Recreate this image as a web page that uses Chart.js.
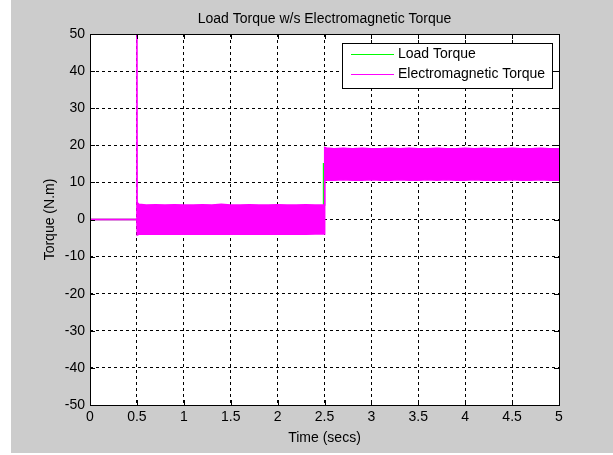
<!DOCTYPE html>
<html>
<head>
<meta charset="utf-8">
<script src="https://cdn.jsdelivr.net/npm/chart.js@4/dist/chart.umd.min.js"></script>
<style>
  html, body { margin: 0; padding: 0; background: #ffffff; }
  canvas { display: block; }
</style>
</head>
<body>
<canvas id="torqueChart" width="613" height="455"></canvas>
<script>
// ------- Data -------
const xTicks = [0, 0.5, 1, 1.5, 2, 2.5, 3, 3.5, 4, 4.5, 5];
const yTicks = [-50, -40, -30, -20, -10, 0, 10, 20, 30, 40, 50];

// load torque: step at ~2.5 s
const loadTime = [0, 2.49, 2.49, 5];
const loadValue = [0, 0, 15, 15];

// electromagnetic torque: start spike at 0.5 s, then a dense ripple band
// kept as its upper / lower envelope
const emTime = [0, 0.499, 0.5, 0.503, 0.52,
  0.6, 0.7, 0.8, 0.9, 1.0, 1.1, 1.2, 1.3, 1.4, 1.5, 1.6, 1.7, 1.8, 1.9, 2.0, 2.1, 2.2, 2.3, 2.4,
  2.498, 2.502, 2.52,
  2.6, 2.7, 2.8, 2.9, 3.0, 3.1, 3.2, 3.3, 3.4, 3.5, 3.6, 3.7, 3.8, 3.9, 4.0, 4.1, 4.2, 4.3, 4.4, 4.5, 4.6, 4.7, 4.8, 4.9, 5.0];
const emUpper = [0, 0, 80, 4.6, 4.1,
  3.9, 4.0, 3.9, 4.0, 3.9, 3.9, 4.0, 3.9, 4.1, 3.9, 3.9, 4.0, 3.9, 3.9, 4.0, 3.9, 3.9, 4.0, 3.9,
  3.9, 19.4, 19.3,
  19.1, 19.2, 19.1, 19.2, 19.1, 19.1, 19.2, 19.1, 19.2, 19.1, 19.1, 19.2, 19.1, 19.1, 19.2, 19.1, 19.2, 19.1, 19.1, 19.2, 19.1, 19.1, 19.2, 19.1, 19.1];
const emLower = [0, 0, 0, -4.2, -4.0,
  -3.9, -4.0, -3.9, -4.0, -3.9, -4.0, -3.9, -4.0, -3.9, -4.0, -3.9, -4.0, -3.9, -4.0, -3.9, -4.0, -3.9, -4.0, -3.9,
  -3.9, 10.7, 10.6,
  10.6, 10.7, 10.6, 10.6, 10.7, 10.6, 10.6, 10.7, 10.6, 10.6, 10.7, 10.6, 10.7, 10.6, 10.6, 10.7, 10.6, 10.6, 10.6, 10.7, 10.6, 10.6, 10.7, 10.6, 10.6];

const legendLabels = ['Load Torque', 'Electromagnetic Torque'];
const GREEN = '#00ff00';
const MAGENTA = '#ff00ff';

function toPoints(xs, ys) {
  return xs.map((x, i) => ({ x: x, y: ys[i] }));
}

Chart.defaults.font.family = '"Liberation Sans", Arial, Helvetica, sans-serif';
Chart.defaults.font.size = 14;
Chart.defaults.color = '#000000';

// ------- MATLAB-like frame: grey figure, box, inner ticks, legend -------
const matlabFrame = {
  id: 'matlabFrame',
  beforeDraw(chart) {
    const { ctx, chartArea: a } = chart;
    ctx.save();
    ctx.fillStyle = '#ffffff';
    ctx.fillRect(0, 0, chart.width, chart.height);
    ctx.fillStyle = '#cccccc';
    ctx.fillRect(11, 0, chart.width - 11, 453);
    ctx.fillStyle = '#ffffff';
    ctx.fillRect(a.left, a.top, a.right - a.left, a.bottom - a.top);
    ctx.restore();
  },
  afterDatasetsDraw(chart) {
    const { ctx, chartArea: a, scales } = chart;
    const tl = 5;
    ctx.save();
    ctx.strokeStyle = '#000000';
    ctx.lineWidth = 1;
    ctx.setLineDash([]);
    ctx.beginPath();
    xTicks.forEach(v => {
      const px = Math.round(scales.x.getPixelForValue(v)) + 0.5;
      ctx.moveTo(px, a.bottom); ctx.lineTo(px, a.bottom - tl);
      ctx.moveTo(px, a.top); ctx.lineTo(px, a.top + tl);
    });
    yTicks.forEach(v => {
      const py = Math.round(scales.y.getPixelForValue(v)) + 0.5;
      ctx.moveTo(a.left, py); ctx.lineTo(a.left + tl, py);
      ctx.moveTo(a.right, py); ctx.lineTo(a.right - tl, py);
    });
    ctx.stroke();
    ctx.strokeRect(a.left + 0.5, a.top + 0.5, a.right - a.left, a.bottom - a.top);

    // legend box, top right inside the axes
    const bx = a.right - 217, by = a.top + 9, bw = 210, bh = 45;
    ctx.fillStyle = '#ffffff';
    ctx.fillRect(bx, by, bw, bh);
    ctx.strokeRect(bx + 0.5, by + 0.5, bw, bh);
    const colors = [GREEN, MAGENTA];
    ctx.font = '14px ' + Chart.defaults.font.family;
    ctx.textBaseline = 'middle';
    ctx.textAlign = 'left';
    legendLabels.forEach((lbl, i) => {
      const ly = by + 11.5 + i * 20;
      ctx.strokeStyle = colors[i];
      ctx.beginPath();
      ctx.moveTo(bx + 9, ly); ctx.lineTo(bx + 52, ly);
      ctx.stroke();
      ctx.fillStyle = '#000000';
      ctx.fillText(lbl, bx + 56, ly);
    });
    ctx.restore();
  }
};

const ctx = document.getElementById('torqueChart').getContext('2d');
new Chart(ctx, {
  type: 'line',
  data: {
    datasets: [
      {
        label: legendLabels[1],
        data: toPoints(emTime, emUpper),
        borderColor: MAGENTA,
        backgroundColor: MAGENTA,
        borderWidth: 1.5,
        fill: '+1',
        order: 1
      },
      {
        label: legendLabels[1] + ' (lower)',
        data: toPoints(emTime, emLower),
        borderColor: MAGENTA,
        borderWidth: 1.5,
        fill: false,
        order: 1
      },
      {
        label: legendLabels[0],
        data: toPoints(loadTime, loadValue),
        borderColor: GREEN,
        borderWidth: 1.5,
        fill: false,
        order: 2
      }
    ]
  },
  options: {
    responsive: false,
    animation: false,
    events: [],
    elements: { point: { radius: 0 }, line: { tension: 0 } },
    layout: { padding: { left: 0, right: 54, top: 0, bottom: 0 } },
    plugins: {
      legend: { display: false },
      tooltip: { enabled: false },
      title: {
        display: true,
        text: 'Load Torque w/s Electromagnetic Torque',
        fullSize: false,
        font: { size: 14, weight: 'normal' },
        color: '#000000',
        padding: { top: 10.6, bottom: 6.6 }
      }
    },
    scales: {
      x: {
        type: 'linear',
        min: 0,
        max: 5,
        afterFit(scale) { scale.height = 50; },
        afterBuildTicks(scale) { scale.ticks = xTicks.map(v => ({ value: v })); },
        ticks: {
          padding: 4, autoSkip: false, maxRotation: 0, color: '#000000',
          callback: v => String(v)
        },
        grid: { color: '#000000', lineWidth: 1, drawTicks: false },
        border: { display: false, dash: [3, 3] },
        title: { display: true, text: 'Time (secs)', font: { size: 14 }, padding: { top: 0, bottom: 8.6 } }
      },
      y: {
        type: 'linear',
        min: -50,
        max: 50,
        afterFit(scale) { scale.width = 90; },
        afterBuildTicks(scale) { scale.ticks = yTicks.map(v => ({ value: v })); },
        ticks: { padding: 5, color: '#000000', callback: v => String(v) },
        grid: { color: '#000000', lineWidth: 1, drawTicks: false },
        border: { display: false, dash: [3, 3] },
        title: { display: true, text: 'Torque (N.m)', font: { size: 14 }, padding: { top: 41.6, bottom: 0 } }
      }
    }
  },
  plugins: [matlabFrame]
});
</script>
</body>
</html>
